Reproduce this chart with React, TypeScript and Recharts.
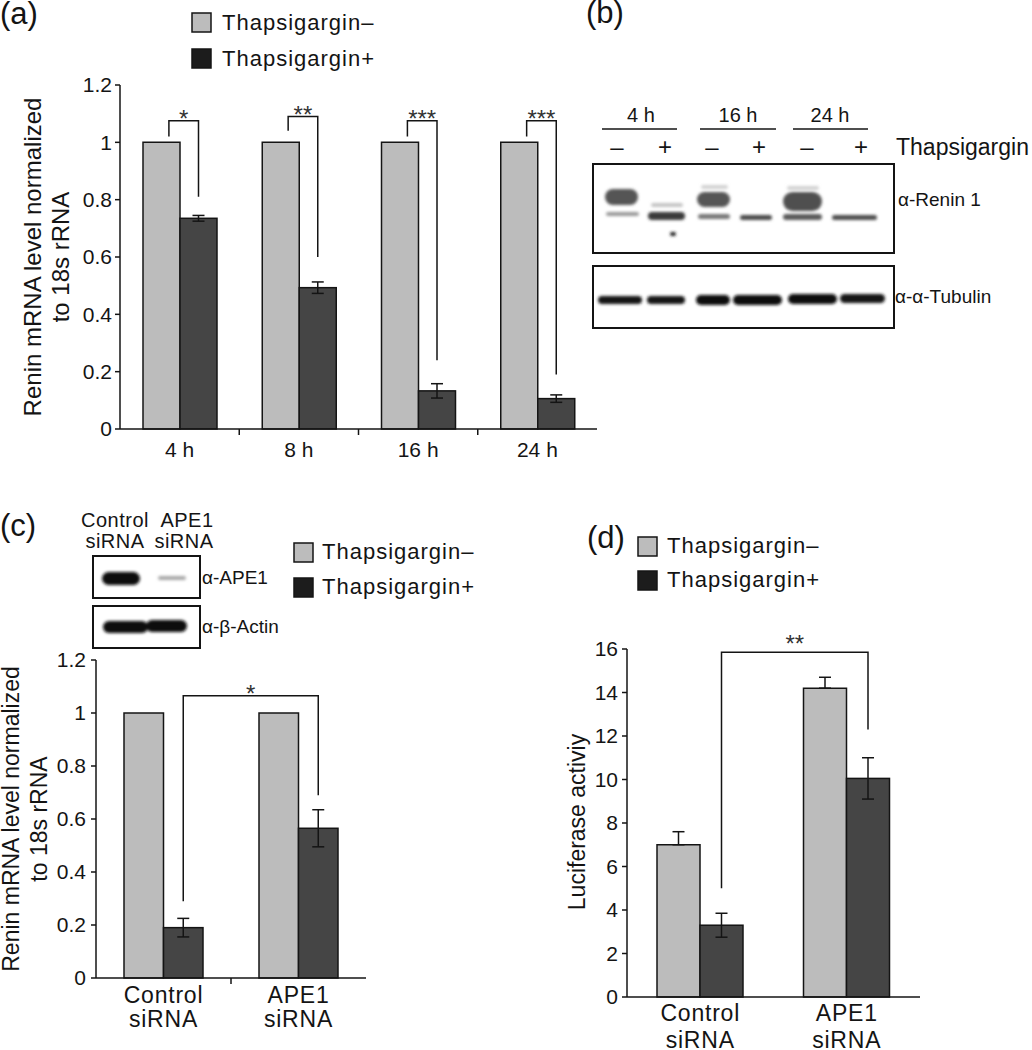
import { BarChart, Bar, XAxis, YAxis, ErrorBar } from 'recharts';

const FONT = '"Liberation Sans", Arial, Helvetica, sans-serif';
const GRAY = '#bcbcbc';
const DARK = '#454545';
const INK = '#141414';

const seriesNames = ['Thapsigargin–', 'Thapsigargin+'];
const legendFills = [GRAY, '#1c1c1c'];

// (a) renin mRNA over time
const hours = ['4 h', '8 h', '16 h', '24 h'];
const hoursMinus = [1, 1, 1, 1];
const hoursPlus = [0.735, 0.493, 0.133, 0.106];
const hoursPlusErr = [0.01, 0.02, 0.025, 0.013];
const hoursStars = ['*', '**', '***', '***'];
const hoursBracketTop = [1.075, 1.09, 1.075, 1.075];
const hoursLegLeft = [1.02, 1.04, 1.02, 1.02];
const hoursLegRight = [0.81, 0.6, 0.24, 0.19];
const mrnaTicks = [0, 0.2, 0.4, 0.6, 0.8, 1, 1.2];

// (c) renin mRNA with APE1 knockdown
const sirnaLines = [['Control', 'siRNA'], ['APE1', 'siRNA']];
const knockMinus = [1, 1];
const knockPlus = [0.19, 0.565];
const knockPlusErr = [0.035, 0.07];
const knockBracket = [1.065, 0.29, 0.69]; // top, left leg end, right leg end
const knockStars = '*';

// (d) luciferase
const lucMinus = [7.0, 14.2];
const lucMinusErr = [0.6, 0.5];
const lucPlus = [3.3, 10.05];
const lucPlusErr = [0.55, 0.95];
const lucBracket = [15.85, 5.0, 12.3];
const lucStars = '**';
const lucTicks = [0, 2, 4, 6, 8, 10, 12, 14, 16];

const hoursData = hours.map((name, i) => ({
  name,
  minus: hoursMinus[i],
  plus: hoursPlus[i],
  plusErr: hoursPlusErr[i],
}));
const knockData = sirnaLines.map((l, i) => ({
  name: l.join(' '),
  minus: knockMinus[i],
  plus: knockPlus[i],
  plusErr: knockPlusErr[i],
}));
const lucData = sirnaLines.map((l, i) => ({
  name: l.join(' '),
  minus: lucMinus[i],
  minusErr: [0, lucMinusErr[i]],
  plus: lucPlus[i],
  plusErr: lucPlusErr[i],
}));

// blot drawings (images in the original figure): x, y, w, h, colour
const reninBands: [number, number, number, number, string][] = [
  [605, 189, 33, 16, '#555'],
  [606, 212, 33, 4, '#9a9a9a'],
  [651, 203, 32, 4, '#c4c4c4'],
  [648, 212, 37, 8, '#3a3a3a'],
  [670, 232, 6, 4, '#222'],
  [701, 185, 27, 4, '#d2d2d2'],
  [697, 192, 33, 15, '#555'],
  [698, 214, 32, 5, '#777'],
  [740, 215, 32, 5, '#4a4a4a'],
  [787, 186, 32, 4, '#d2d2d2'],
  [783, 192, 39, 19, '#505050'],
  [783, 214, 39, 6, '#5a5a5a'],
  [832, 215, 45, 5, '#4e4e4e'],
];
const tubulinBands: [number, number, number, number, string][] = [
  [598, 296, 44, 8, '#151515'],
  [647, 296, 38, 8, '#151515'],
  [696, 295, 34, 10, '#111'],
  [733, 295, 49, 10, '#111'],
  [788, 294, 49, 10, '#111'],
  [840, 294, 45, 9, '#151515'],
];
const ape1Bands: [number, number, number, number, string][] = [
  [102, 572, 38, 13, '#111'],
  [158, 576, 28, 4, '#a8a8a8'],
];
const actinBands: [number, number, number, number, string][] = [
  [103, 621, 45, 12, '#111'],
  [146, 620, 41, 12, '#111'],
];

const yTickStyle = { fontSize: 21, fill: INK, fontFamily: FONT };

function CategoryTick(props: any) {
  const { x, y, index, lines, band, count, mark, fontSize, firstDy, lineGap, spacing } = props;
  return (
    <g>
      {mark && index < count - 1 && (
        <line x1={x + band / 2} x2={x + band / 2} y1={y} y2={y + 6} stroke={INK} strokeWidth={1.5} />
      )}
      {lines[index].map((l: string, i: number) => (
        <text
          key={i}
          x={x}
          y={y + firstDy + i * lineGap}
          textAnchor="middle"
          fontSize={fontSize}
          fill={INK}
          letterSpacing={spacing}
          fontFamily={FONT}
        >
          {l}
        </text>
      ))}
    </g>
  );
}

const rotatedLabel = (lines: string[], xs: number[], cy: number, size: number) => () => (
  <g>
    {lines.map((l, i) => (
      <text
        key={i}
        x={xs[i]}
        y={cy}
        transform={`rotate(-90 ${xs[i]} ${cy})`}
        textAnchor="middle"
        fontSize={size}
        fill={INK}
        fontFamily={FONT}
      >
        {l}
      </text>
    ))}
  </g>
);

// dark bar + bracket from the grey bar of the same time point
const hoursShape = (props: any) => {
  const { x, y, width, height, index } = props;
  const base = y + height;
  const py = (u: number) => base - (height * u) / hoursPlus[index];
  const lx = x - width * 0.3;
  const rx = x + width / 2;
  const top = py(hoursBracketTop[index]);
  return (
    <g>
      <rect x={x} y={y} width={width} height={height} fill={DARK} stroke={INK} strokeWidth={1.5} />
      <path
        d={`M${lx},${py(hoursLegLeft[index])}V${top}H${rx}V${py(hoursLegRight[index])}`}
        fill="none"
        stroke={INK}
        strokeWidth={1.5}
      />
      <text x={(lx + rx) / 2} y={top + 6} textAnchor="middle" fontSize={24} fill="#333" fontFamily={FONT}>
        {hoursStars[index]}
      </text>
    </g>
  );
};

// dark bar + bracket spanning both dark bars (drawn with the last one)
const spanShape = (values: number[], bracket: number[], stars: string, band: number, starDy: number) => (props: any) => {
  const { x, y, width, height, index } = props;
  const base = y + height;
  const py = (u: number) => base - (height * u) / values[index];
  const last = index === values.length - 1;
  const rx = x + width / 2;
  const lx = rx - band;
  const top = py(bracket[0]);
  return (
    <g>
      <rect x={x} y={y} width={width} height={height} fill={DARK} stroke={INK} strokeWidth={1.5} />
      {last && (
        <g>
          <path
            d={`M${lx},${py(bracket[1])}V${top}H${rx}V${py(bracket[2])}`}
            fill="none"
            stroke={INK}
            strokeWidth={1.5}
          />
          <text x={(lx + rx) / 2} y={top + starDy} textAnchor="middle" fontSize={24} fill="#333" fontFamily={FONT}>
            {stars}
          </text>
        </g>
      )}
    </g>
  );
};

function Legend2({ x, y, gap, textDx, baseDy }: { x: number; y: number; gap: number; textDx: number; baseDy: number }) {
  return (
    <g>
      {seriesNames.map((n, i) => (
        <g key={n}>
          <rect x={x} y={y + i * gap} width={19} height={19} fill={legendFills[i]} stroke={INK} strokeWidth={1.5} />
          <text x={x + textDx} y={y + i * gap + baseDy} fontSize={22} letterSpacing={1} fill={INK} fontFamily={FONT}>
            {n}
          </text>
        </g>
      ))}
    </g>
  );
}

function Bands({ items }: { items: [number, number, number, number, string][] }) {
  return (
    <g filter="url(#blotBlur)">
      {items.map(([bx, by, bw, bh, c], i) => (
        <rect key={i} x={bx} y={by} width={bw} height={bh} rx={bh / 2} fill={c} />
      ))}
    </g>
  );
}

const A_BAND = (597 - 120) / 4;
const C_BAND = (366 - 96) / 2;
const D_BAND = (920 - 627) / 2;

export default function App() {
  return (
    <div
      style={{
        position: 'absolute',
        left: 0,
        top: 0,
        width: 1032,
        height: 1050,
        background: '#fff',
        fontFamily: FONT,
        overflow: 'hidden',
      }}
    >
      {/* (a) */}
      <div style={{ position: 'absolute', left: 0, top: 0 }}>
        <BarChart width={610} height={480} data={hoursData} margin={{ top: 85, right: 13, bottom: 0, left: 0 }} barGap={0} barSize={37}>
          <YAxis
            width={120}
            domain={[0, 1.2]}
            ticks={mrnaTicks}
            tick={yTickStyle}
            tickSize={5}
            tickMargin={3}
            axisLine={{ stroke: INK, strokeWidth: 1.5 }}
            tickLine={{ stroke: INK, strokeWidth: 1.5 }}
            label={{
              content: rotatedLabel(['Renin mRNA level normalized', 'to 18s rRNA'], [41, 69], 257, 24),
            }}
          />
          <XAxis
            dataKey="name"
            height={51}
            tickSize={0}
            tickMargin={0}
            tickLine={false}
            axisLine={{ stroke: INK, strokeWidth: 1.5 }}
            interval={0}
            tick={(p: any) => (
              <CategoryTick
                {...p}
                lines={hours.map((h) => [h])}
                band={A_BAND}
                count={hours.length}
                mark
                fontSize={21}
                firstDy={28}
                lineGap={0}
                spacing={0}
              />
            )}
          />
          <Bar dataKey="minus" fill={GRAY} stroke={INK} strokeWidth={1.5} isAnimationActive={false} />
          <Bar dataKey="plus" fill={DARK} shape={hoursShape} isAnimationActive={false}>
            <ErrorBar dataKey="plusErr" width={6} strokeWidth={1.5} stroke={INK} />
          </Bar>
        </BarChart>
      </div>

      {/* (c) */}
      <div style={{ position: 'absolute', left: 0, top: 640 }}>
        <BarChart width={380} height={410} data={knockData} margin={{ top: 20, right: 14, bottom: 0, left: 0 }} barGap={0} barSize={39.5}>
          <YAxis
            width={96}
            domain={[0, 1.2]}
            ticks={mrnaTicks}
            tick={yTickStyle}
            tickSize={5}
            tickMargin={5}
            axisLine={{ stroke: INK, strokeWidth: 1.5 }}
            tickLine={{ stroke: INK, strokeWidth: 1.5 }}
            label={{
              content: rotatedLabel(['Renin mRNA level normalized', 'to 18s rRNA'], [19, 47], 179, 23),
            }}
          />
          <XAxis
            dataKey="name"
            height={72}
            tickSize={0}
            tickMargin={0}
            tickLine={false}
            axisLine={{ stroke: INK, strokeWidth: 1.5 }}
            interval={0}
            tick={(p: any) => (
              <CategoryTick
                {...p}
                lines={sirnaLines}
                band={C_BAND}
                count={sirnaLines.length}
                mark
                fontSize={23}
                firstDy={25}
                lineGap={24}
                spacing={0.8}
              />
            )}
          />
          <Bar dataKey="minus" fill={GRAY} stroke={INK} strokeWidth={1.5} isAnimationActive={false} />
          <Bar dataKey="plus" fill={DARK} shape={spanShape(knockPlus, knockBracket, knockStars, C_BAND, 6)} isAnimationActive={false}>
            <ErrorBar dataKey="plusErr" width={6} strokeWidth={1.5} stroke={INK} />
          </Bar>
        </BarChart>
      </div>

      {/* (d) */}
      <div style={{ position: 'absolute', left: 540, top: 600 }}>
        <BarChart width={400} height={450} data={lucData} margin={{ top: 49, right: 20, bottom: 0, left: 0 }} barGap={0} barSize={43}>
          <YAxis
            width={87}
            domain={[0, 16]}
            ticks={lucTicks}
            tick={yTickStyle}
            tickSize={5}
            tickMargin={4}
            axisLine={{ stroke: INK, strokeWidth: 1.5 }}
            tickLine={{ stroke: INK, strokeWidth: 1.5 }}
            label={{ content: rotatedLabel(['Luciferase activiy'], [45], 222, 23) }}
          />
          <XAxis
            dataKey="name"
            height={53}
            tickSize={0}
            tickMargin={0}
            tickLine={false}
            axisLine={{ stroke: INK, strokeWidth: 1.5 }}
            interval={0}
            tick={(p: any) => (
              <CategoryTick
                {...p}
                lines={sirnaLines}
                band={D_BAND}
                count={sirnaLines.length}
                mark={false}
                fontSize={23}
                firstDy={24}
                lineGap={27}
                spacing={0.8}
              />
            )}
          />
          <Bar dataKey="minus" fill={GRAY} stroke={INK} strokeWidth={1.5} isAnimationActive={false}>
            <ErrorBar dataKey="minusErr" width={6} strokeWidth={1.5} stroke={INK} />
          </Bar>
          <Bar dataKey="plus" fill={DARK} shape={spanShape(lucPlus, lucBracket, lucStars, D_BAND, 0)} isAnimationActive={false}>
            <ErrorBar dataKey="plusErr" width={6} strokeWidth={1.5} stroke={INK} />
          </Bar>
        </BarChart>
      </div>

      {/* panel letters, legends and blots */}
      <svg
        width={1032}
        height={1050}
        style={{ position: 'absolute', left: 0, top: 0, pointerEvents: 'none' }}
        fontFamily={FONT}
      >
        <defs>
          <filter id="blotBlur" x="-20%" y="-60%" width="140%" height="220%">
            <feGaussianBlur stdDeviation="1.8" />
          </filter>
        </defs>
        <g fontSize={31} fill={INK}>
          <text x={0} y={24}>(a)</text>
          <text x={586} y={23}>(b)</text>
          <text x={0} y={536}>(c)</text>
          <text x={587} y={548}>(d)</text>
        </g>

        <Legend2 x={192} y={13} gap={36} textDx={30} baseDy={17} />
        <Legend2 x={294} y={543} gap={35} textDx={28} baseDy={16} />
        <Legend2 x={638} y={537} gap={34} textDx={29} baseDy={16} />

        {/* (b) western blot */}
        <g fontSize={20} fill={INK} textAnchor="middle">
          <text x={641} y={122}>4 h</text>
          <text x={738} y={122}>16 h</text>
          <text x={830} y={122}>24 h</text>
        </g>
        <g stroke={INK} strokeWidth={1.5}>
          <line x1={602} x2={677} y1={129} y2={129} />
          <line x1={700} x2={776} y1={129} y2={129} />
          <line x1={793} x2={868} y1={129} y2={129} />
        </g>
        <g fontSize={24} fill={INK} textAnchor="middle">
          <text x={617} y={155}>–</text>
          <text x={665} y={155}>+</text>
          <text x={712} y={155}>–</text>
          <text x={759} y={155}>+</text>
          <text x={807} y={155}>–</text>
          <text x={861} y={155}>+</text>
        </g>
        <text x={896} y={155} fontSize={23} fill={INK}>Thapsigargin</text>
        <rect x={593} y={164} width={301} height={89} fill="#fff" stroke={INK} strokeWidth={2} />
        <rect x={593} y={266} width={301} height={62} fill="#fff" stroke={INK} strokeWidth={2} />
        <Bands items={reninBands} />
        <Bands items={tubulinBands} />
        <text x={898} y={206} fontSize={19} fill={INK}>α-Renin 1</text>
        <text x={895} y={303} fontSize={19} fill={INK}>α-α-Tubulin</text>

        {/* (c) inset blot */}
        <g fontSize={20} fill={INK} textAnchor="middle" letterSpacing={0.5}>
          <text x={115} y={527}>Control</text>
          <text x={115} y={548}>siRNA</text>
          <text x={187} y={527}>APE1</text>
          <text x={184} y={548}>siRNA</text>
        </g>
        <rect x={93} y={556} width={107} height={42} fill="#fff" stroke={INK} strokeWidth={2} />
        <rect x={93} y={606} width={107} height={42} fill="#fff" stroke={INK} strokeWidth={2} />
        <Bands items={ape1Bands} />
        <Bands items={actinBands} />
        <text x={202} y={584} fontSize={19} fill={INK}>α-APE1</text>
        <text x={202} y={633} fontSize={19} fill={INK}>α-β-Actin</text>
      </svg>
    </div>
  );
}
